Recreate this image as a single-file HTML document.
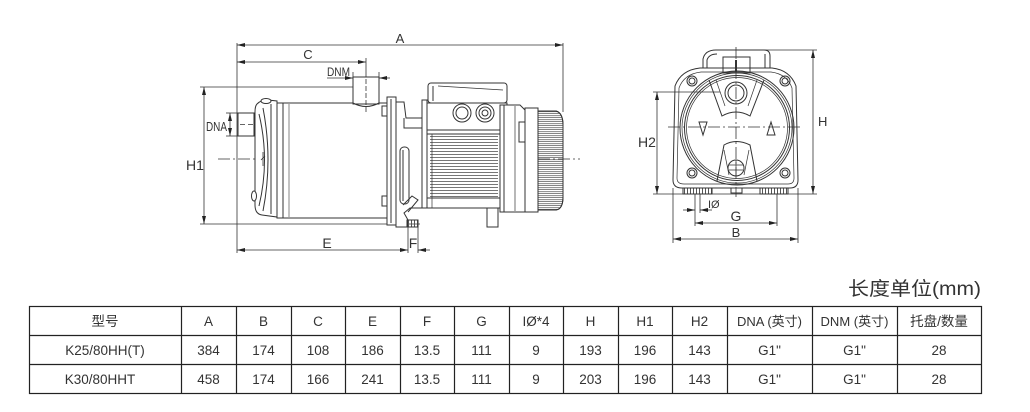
<!DOCTYPE html>
<html><head><meta charset="utf-8"><style>
html,body{margin:0;padding:0;background:#fff;}
svg{display:block;}
text{font-family:"Liberation Sans","Noto Sans CJK SC",sans-serif;fill:#333;}
</style></head><body>
<svg width="1030" height="412" viewBox="0 0 1030 412" xmlns="http://www.w3.org/2000/svg">
<defs>
<marker id="ar" viewBox="0 0 8 4" refX="8" refY="2" markerWidth="8" markerHeight="4" orient="auto-start-reverse" markerUnits="userSpaceOnUse"><path d="M0,0 L8,2 L0,4 z" fill="#222"/></marker>
<pattern id="fin" x="0" y="136" width="10" height="3" patternUnits="userSpaceOnUse"><rect width="10" height="1" fill="#777"/></pattern>
<pattern id="rib" x="0" y="113" width="10" height="4" patternUnits="userSpaceOnUse"><rect width="10" height="0.8" fill="#666"/><rect y="2.3" width="10" height="0.8" fill="#666"/></pattern>
<pattern id="hat" x="0" y="0" width="3" height="10" patternUnits="userSpaceOnUse"><rect width="1" height="10" fill="#555"/></pattern>
</defs>

<!-- ============ SIDE VIEW ============ -->
<g stroke="#333" stroke-width="0.8" fill="none">
  <line x1="237" y1="45" x2="563" y2="45" marker-start="url(#ar)" marker-end="url(#ar)"/>
  <line x1="563" y1="43" x2="563" y2="112"/>
  <line x1="237" y1="62" x2="366" y2="62" marker-start="url(#ar)" marker-end="url(#ar)"/>
  <line x1="366" y1="58" x2="366" y2="72"/>
  <line x1="327" y1="78" x2="353" y2="78" marker-end="url(#ar)"/>
  <line x1="390" y1="78" x2="379" y2="78" marker-end="url(#ar)"/>
  <line x1="353" y1="72" x2="353" y2="78"/>
  <line x1="379" y1="72" x2="379" y2="78"/>
  <line x1="237" y1="43" x2="237" y2="253"/>
  <line x1="204" y1="87" x2="204" y2="224" marker-start="url(#ar)" marker-end="url(#ar)"/>
  <line x1="200" y1="87" x2="353" y2="87"/>
  <line x1="200" y1="224" x2="420" y2="224"/>
  <line x1="230" y1="113" x2="230" y2="136" marker-start="url(#ar)" marker-end="url(#ar)"/>
  <line x1="226" y1="113" x2="238" y2="113"/>
  <line x1="226" y1="136" x2="238" y2="136"/>
  <line x1="237" y1="250" x2="408" y2="250" marker-start="url(#ar)" marker-end="url(#ar)"/>
  <line x1="408" y1="220" x2="408" y2="253"/>
  <line x1="418" y1="220" x2="418" y2="253"/>
  <line x1="430" y1="250" x2="418" y2="250" marker-end="url(#ar)"/>
  <line x1="218" y1="159" x2="580" y2="159" stroke-dasharray="12 3 2 3"/>
</g>

<g stroke="#333" stroke-width="1" fill="none">
  <rect x="238" y="113" width="16" height="23" fill="#fff"/>
  <line x1="240" y1="124.5" x2="260" y2="124.5" stroke-dasharray="5 3" stroke-width="0.8"/>
  <path d="M257,104 Q262,99 268,100 L277,101 L277,217 L262,215 Q255,214 255,205 L255,112 Q255,106 257,104 Z" fill="#fff"/>
  <path d="M259,114 Q270,160 259,206"/>
  <path d="M263,108 Q273,160 263,211"/>
  <path d="M271,104 L271,214"/>
  <ellipse cx="266" cy="101" rx="5" ry="2.5" fill="#fff"/>
  <ellipse cx="254" cy="196" rx="2.5" ry="5" fill="#fff"/>
  <path d="M263,152 L263,166 M261,160 L265,156" stroke-width="0.8"/>
  <rect x="277" y="103" width="6" height="115" fill="#fff"/>
  <rect x="283" y="103" width="104" height="115" fill="#fff"/>
  <line x1="289" y1="104" x2="289" y2="217" stroke-width="0.6"/>
  <rect x="353" y="77" width="26" height="27" fill="#fff"/>
  <path d="M353,103 Q366,110 379,103"/>
  <line x1="366" y1="72" x2="366" y2="112" stroke-dasharray="5 2" stroke-width="0.8"/>
  <rect x="387" y="97" width="9" height="128" fill="#fff"/>
  <line x1="391" y1="99" x2="391" y2="223"/>
  <rect x="382" y="106" width="5" height="10" fill="#fff"/>
  <rect x="382" y="196" width="5" height="10" fill="#fff"/>
  <path d="M396,102 H404 L406,118 H422 V208 H410 L404,213 L408,220 V227 H396 Z" fill="#fff"/>
  <path d="M404,118 V128 H422"/>
  <rect x="400" y="147" width="9" height="57" rx="4" fill="#fff"/>
  <line x1="403" y1="150" x2="403" y2="201"/>
  <path d="M403,205 L412,196 L418,200 L408,212"/>
  <rect x="407" y="220" width="11" height="7" fill="url(#hat)"/>
  <rect x="407" y="220" width="11" height="7"/>
  <rect x="422" y="100" width="5" height="108" fill="#fff"/>
  <rect x="428" y="83" width="79" height="20" rx="3" fill="#fff"/>
  <line x1="433" y1="86" x2="433" y2="101"/>
  <line x1="438" y1="86" x2="503" y2="90" stroke-width="0.7"/>
  <rect x="427" y="103" width="80" height="27" fill="#fff"/>
  <circle cx="462" cy="113" r="9"/>
  <circle cx="462" cy="113" r="6"/>
  <circle cx="485" cy="113" r="9"/>
  <circle cx="485" cy="113" r="6"/>
  <circle cx="485" cy="113" r="3"/>
  <rect x="427" y="130" width="73" height="78" fill="#fff"/>
  <rect x="430" y="135" width="68" height="62" fill="url(#fin)" stroke="none"/>
  <line x1="427" y1="134" x2="500" y2="134"/>
  <line x1="427" y1="198" x2="500" y2="198"/>
  <line x1="432" y1="134" x2="432" y2="208" stroke-width="0.7"/>
  <path d="M500,105 H520 L525,110 V212 H500 Z" fill="#fff"/>
  <line x1="504" y1="105" x2="504" y2="212"/>
  <line x1="515" y1="106" x2="515" y2="211" stroke-width="0.7"/>
  <rect x="519" y="122" width="6" height="20" fill="#fff"/>
  <rect x="525" y="108" width="13" height="104" fill="#fff"/>
  <path d="M538,111 H556 Q563,113 563,125 V197 Q563,209 556,210 H538 Z" fill="url(#rib)"/>
  <path d="M538,111 H556 Q563,113 563,125 V197 Q563,209 556,210 H538 Z"/>
  <rect x="487" y="208" width="11" height="19" fill="#fff"/>
</g>

<g font-size="13">
  <text x="400" y="43" text-anchor="middle">A</text>
  <text x="308" y="59" text-anchor="middle">C</text>
  <text x="327" y="76" font-size="12" textLength="23" lengthAdjust="spacingAndGlyphs">DNM</text>
  <text x="186" y="170" font-size="14">H1</text>
  <text x="206" y="131" font-size="12.5" textLength="21" lengthAdjust="spacingAndGlyphs">DNA</text>
  <text x="327" y="248" text-anchor="middle" font-size="14">E</text>
  <text x="413" y="248" text-anchor="middle" font-size="14">F</text>
</g>

<!-- ============ FRONT VIEW ============ -->
<g stroke="#333" stroke-width="0.8" fill="none">
  <line x1="736" y1="47" x2="736" y2="197" stroke-dasharray="12 3 2 3"/>
  <line x1="668" y1="127" x2="803" y2="127" stroke-dasharray="12 3 2 3"/>
  <line x1="813" y1="50" x2="813" y2="194" marker-start="url(#ar)" marker-end="url(#ar)"/>
  <line x1="740" y1="50" x2="817" y2="50"/>
  <line x1="653" y1="194" x2="817" y2="194"/>
  <line x1="657" y1="92" x2="657" y2="194" marker-start="url(#ar)" marker-end="url(#ar)"/>
  <line x1="653" y1="92" x2="720" y2="92"/>
  <line x1="695" y1="194" x2="695" y2="226"/>
  <line x1="700" y1="194" x2="700" y2="213"/>
  <line x1="683" y1="210" x2="695" y2="210" marker-end="url(#ar)"/>
  <line x1="712" y1="210" x2="700" y2="210" marker-end="url(#ar)"/>
  <line x1="777" y1="194" x2="777" y2="226"/>
  <line x1="695" y1="223" x2="777" y2="223" marker-start="url(#ar)" marker-end="url(#ar)"/>
  <line x1="673" y1="188" x2="673" y2="243"/>
  <line x1="798" y1="188" x2="798" y2="243"/>
  <line x1="673" y1="239" x2="798" y2="239" marker-start="url(#ar)" marker-end="url(#ar)"/>
</g>

<g stroke="#333" stroke-width="1" fill="none">
  <path d="M703,68 V59 Q705,50 716,50 H764 Q770,50 770,56 V68"/>
  <path d="M707,68 V60 Q709,54 717,54"/>
  <path d="M765,54 V68"/>
  <rect x="723" y="57" width="27" height="16"/>
  <line x1="736" y1="60" x2="736" y2="72" stroke-width="2"/>
  <path d="M700,68 H772 Q790,70 796,86 L798,180 Q798,188 790,188 H682 Q673,188 673,180 L675,86 Q681,70 700,68 Z"/>
  <path d="M701,72 H771 Q787,74 792,88 L794,178 Q794,184 788,184 H684 Q677,184 677,178 L679,88 Q684,74 701,72 Z" stroke-width="0.7"/>
  <circle cx="737" cy="128" r="57"/>
  <circle cx="737" cy="128" r="55" stroke-width="0.7"/>
  <circle cx="737" cy="128" r="52.5"/>
  <circle cx="737" cy="128" r="50.5" stroke-width="0.7"/>
  <circle cx="692" cy="81" r="5"/><circle cx="692" cy="81" r="3"/>
  <circle cx="785" cy="81" r="5"/><circle cx="785" cy="81" r="3"/>
  <circle cx="692" cy="173" r="5"/><circle cx="692" cy="173" r="3"/>
  <circle cx="785" cy="173" r="5"/><circle cx="785" cy="173" r="3"/>
  <path d="M709,80 L722,116 Q736,108 750,116 L764,80"/>
  <path d="M716,80 L725,106 M757,80 L748,106" stroke-width="0.7"/>
  <circle cx="736" cy="93" r="11"/>
  <circle cx="736" cy="93" r="8"/>
  <path d="M717,181 L724,145 Q736,138 750,145 L757,181"/>
  <path d="M724,150 L729,175 M749,150 L744,175" stroke-width="0.7"/>
  <circle cx="736" cy="168" r="8"/>
  <path d="M729,165 H743 M729,170 H743 M736,160 V176" stroke-width="0.7"/>
  <path d="M699,122 H707 L703,135 Z"/>
  <path d="M771,122 L767,135 H775 Z"/>
  <rect x="683" y="188" width="29" height="6" fill="url(#hat)"/>
  <rect x="683" y="188" width="29" height="6"/>
  <rect x="760" y="188" width="28" height="6" fill="url(#hat)"/>
  <rect x="760" y="188" width="28" height="6"/>
  <rect x="731" y="188" width="11" height="5"/>
</g>

<g font-size="14">
  <text x="818" y="126" font-size="13">H</text>
  <text x="638" y="147">H2</text>
  <text x="708" y="208" font-size="11">IØ</text>
  <text x="736" y="221" text-anchor="middle">G</text>
  <text x="736" y="237" text-anchor="middle" font-size="13">B</text>
</g>

<text x="848" y="295" font-size="19" textLength="133" lengthAdjust="spacingAndGlyphs">长度单位(mm)</text>

<g stroke="#222" stroke-width="1.2" fill="none">
  <rect x="29.5" y="306.5" width="952" height="87"/>
  <line x1="29.5" y1="335.5" x2="981.5" y2="335.5"/>
  <line x1="29.5" y1="364.5" x2="981.5" y2="364.5"/>
  <path d="M181.5,306.5V393.5 M236.5,306.5V393.5 M291.5,306.5V393.5 M345.5,306.5V393.5 M400.5,306.5V393.5 M454.5,306.5V393.5 M509.5,306.5V393.5 M563.5,306.5V393.5 M618.5,306.5V393.5 M672.5,306.5V393.5 M727.5,306.5V393.5 M812.5,306.5V393.5 M897.5,306.5V393.5"/>
</g>
<g font-size="13.5" text-anchor="middle">
  <text x="105" y="326">型号</text>
  <text x="208.5" y="326">A</text>
  <text x="263.5" y="326">B</text>
  <text x="318" y="326">C</text>
  <text x="372.5" y="326">E</text>
  <text x="427" y="326">F</text>
  <text x="481.5" y="326">G</text>
  <text x="536" y="326">IØ*4</text>
  <text x="590.5" y="326">H</text>
  <text x="645" y="326">H1</text>
  <text x="699.5" y="326">H2</text>
  <text x="769.5" y="326" font-size="13">DNA (英寸)</text>
  <text x="854.5" y="326" font-size="13">DNM (英寸)</text>
  <text x="939" y="326">托盘/数量</text>

  <text x="105" y="355">K25/80HH(T)</text>
  <text x="208.5" y="355">384</text>
  <text x="263.5" y="355">174</text>
  <text x="318" y="355">108</text>
  <text x="372.5" y="355">186</text>
  <text x="427" y="355">13.5</text>
  <text x="481.5" y="355">111</text>
  <text x="536" y="355">9</text>
  <text x="590.5" y="355">193</text>
  <text x="645" y="355">196</text>
  <text x="699.5" y="355">143</text>
  <text x="769.5" y="355">G1"</text>
  <text x="854.5" y="355">G1"</text>
  <text x="939" y="355">28</text>

  <text x="100" y="384">K30/80HHT</text>
  <text x="208.5" y="384">458</text>
  <text x="263.5" y="384">174</text>
  <text x="318" y="384">166</text>
  <text x="372.5" y="384">241</text>
  <text x="427" y="384">13.5</text>
  <text x="481.5" y="384">111</text>
  <text x="536" y="384">9</text>
  <text x="590.5" y="384">203</text>
  <text x="645" y="384">196</text>
  <text x="699.5" y="384">143</text>
  <text x="769.5" y="384">G1"</text>
  <text x="854.5" y="384">G1"</text>
  <text x="939" y="384">28</text>
</g>
</svg>
</body></html>
